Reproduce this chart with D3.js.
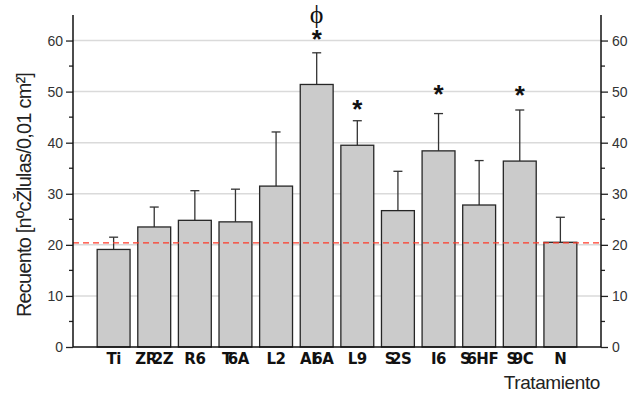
<!DOCTYPE html>
<html>
<head>
<meta charset="utf-8">
<script src="https://cdn.jsdelivr.net/npm/d3@7"></script>
<style>
  body { margin: 0; background: #fff; }
  svg { display: block; font-family: "Liberation Sans", Arial, sans-serif; }
</style>
</head>
<body>
<svg id="chart" width="632" height="395"></svg>
<script>
var categories = ["Ti", "ZR2Z", "R6", "T6A", "L2", "AI6A", "L9", "S2S", "I6", "S6HF", "S9C", "N"]
var means = [19.1, 23.5, 24.8, 24.5, 31.5, 51.4, 39.5, 26.7, 38.4, 27.8, 36.4, 20.5]
var upperErr = [21.5, 27.4, 30.6, 30.9, 42.1, 57.6, 44.3, 34.4, 45.7, 36.5, 46.4, 25.4]
var yTicks = [0, 10, 20, 30, 40, 50, 60]
var referenceLevel = 20.4
// significance marks: category and height (data units) of the mark centre
var starCats = ["AI6A", "L9", "I6", "S9C"]
var starVals = [61, 47.4, 50.3, 50.1]
var phiCat = "AI6A"
var phiVal = 65

var dims = { width: 632, height: 395, left: 73, right: 601, top: 15, bottom: 347 }

var svg = d3.select("#chart")

var x = d3.scaleBand()
    .domain(categories)
    .range([dims.left, dims.right])
    .paddingInner(0.19)
    .paddingOuter(0.595)

var y = d3.scaleLinear()
    .domain([0, 65])
    .range([dims.bottom, dims.top])

// gridlines
svg.append("g")
    .selectAll("line")
    .data(yTicks.filter(function (d) { return d > 0 }))
    .enter()
    .append("line")
    .attr("x1", dims.left)
    .attr("x2", dims.right)
    .attr("y1", function (d) { return y(d) })
    .attr("y2", function (d) { return y(d) })
    .attr("stroke", "#dadada")
    .attr("stroke-width", 1.5)

// error bars (upper only)
var eb = svg.append("g")
    .attr("stroke", "#333")
    .attr("stroke-width", 1.3)
categories.forEach(function (c, i) {
    var cx = x(c) + x.bandwidth() / 2
    eb.append("line")
        .attr("x1", cx).attr("x2", cx)
        .attr("y1", y(means[i])).attr("y2", y(upperErr[i]))
    eb.append("line")
        .attr("x1", cx - 4.5).attr("x2", cx + 4.5)
        .attr("y1", y(upperErr[i])).attr("y2", y(upperErr[i]))
})

// bars
svg.append("g")
    .selectAll("rect")
    .data(categories)
    .enter()
    .append("rect")
    .attr("x", function (d) { return x(d) })
    .attr("width", x.bandwidth())
    .attr("y", function (d, i) { return y(means[i]) })
    .attr("height", function (d, i) { return y(0) - y(means[i]) })
    .attr("fill", "#cbcbcb")
    .attr("stroke", "#262626")
    .attr("stroke-width", 1.3)

// reference line
svg.append("line")
    .attr("x1", dims.left)
    .attr("x2", dims.right)
    .attr("y1", y(referenceLevel))
    .attr("y2", y(referenceLevel))
    .attr("stroke", "#ff3a28")
    .attr("stroke-width", 1.2)
    .attr("stroke-dasharray", "6,4")

// axes
var yAxisL = d3.axisLeft(y).tickValues(yTicks).tickSize(7).tickPadding(3)
var yAxisR = d3.axisRight(y).tickValues(yTicks).tickSize(7).tickPadding(4)
var minor = d3.range(5, 65, 10)

function styleAxis(g, side) {
    g.select(".domain").remove()
    g.selectAll("line").attr("stroke", "#222").attr("stroke-width", 1.3)
    g.selectAll("text")
        .attr("fill", "#333")
        .style("font-size", "14px")
        .style("font-family", "'Liberation Sans', Arial, sans-serif")
    g.selectAll(".minor")
        .data(minor)
        .enter()
        .append("line")
        .attr("x1", 0)
        .attr("x2", side * 4)
        .attr("y1", function (d) { return y(d) })
        .attr("y2", function (d) { return y(d) })
        .attr("stroke", "#222")
        .attr("stroke-width", 1.3)
    g.append("line")
        .attr("x1", 0).attr("x2", 0)
        .attr("y1", dims.top).attr("y2", dims.bottom)
        .attr("stroke", "#111")
        .attr("stroke-width", 1.5)
}

svg.append("g")
    .attr("transform", "translate(" + dims.left + ",0)")
    .call(yAxisL)
    .call(styleAxis, -1)

svg.append("g")
    .attr("transform", "translate(" + dims.right + ",0)")
    .call(yAxisR)
    .call(styleAxis, 1)

// baseline
svg.append("line")
    .attr("x1", dims.left)
    .attr("x2", dims.right)
    .attr("y1", y(0))
    .attr("y2", y(0))
    .attr("stroke", "#111")
    .attr("stroke-width", 1.5)

// category labels: in longer labels the digit runs into the letter before it
svg.append("g")
    .selectAll("text")
    .data(categories)
    .enter()
    .append("text")
    .attr("x", function (d) { return x(d) + x.bandwidth() / 2 })
    .attr("y", 364)
    .attr("dx", function (d) {
        if (d.length <= 2) return null
        return d.split("").map(function (ch, i) {
            return (/\d/.test(ch) && i > 0) ? -4 : 0
        }).join(" ")
    })
    .attr("text-anchor", "middle")
    .attr("font-family", "'DejaVu Sans', sans-serif")
    .attr("font-weight", "bold")
    .attr("font-size", 15)
    .attr("letter-spacing", -0.5)
    .attr("fill", "#111")
    .text(function (d) { return d })

// significance marks
svg.append("g")
    .selectAll("text")
    .data(starCats)
    .enter()
    .append("text")
    .attr("x", function (d) { return x(d) + x.bandwidth() / 2 })
    .attr("y", function (d, i) { return y(starVals[i]) + 13 })
    .attr("text-anchor", "middle")
    .attr("font-weight", "bold")
    .attr("font-size", 26)
    .attr("fill", "#111")
    .text("*")

svg.append("text")
    .attr("x", x(phiCat) + x.bandwidth() / 2)
    .attr("y", y(phiVal) + 8)
    .attr("text-anchor", "middle")
    .attr("font-family", "'Liberation Serif', 'DejaVu Serif', serif")
    .attr("font-size", 26)
    .attr("fill", "#111")
    .text("ϕ")

// axis titles
svg.append("text")
    .attr("transform", "translate(31,195) rotate(-90)")
    .attr("text-anchor", "middle")
    .attr("font-size", 20)
    .attr("letter-spacing", -0.8)
    .attr("fill", "#222")
    .text("Recuento [nºcŽlulas/0,01 cm²]")

svg.append("text")
    .attr("x", 600)
    .attr("y", 389)
    .attr("text-anchor", "end")
    .attr("font-size", 19)
    .attr("letter-spacing", -0.4)
    .attr("fill", "#222")
    .text("Tratamiento")
</script>
</body>
</html>
